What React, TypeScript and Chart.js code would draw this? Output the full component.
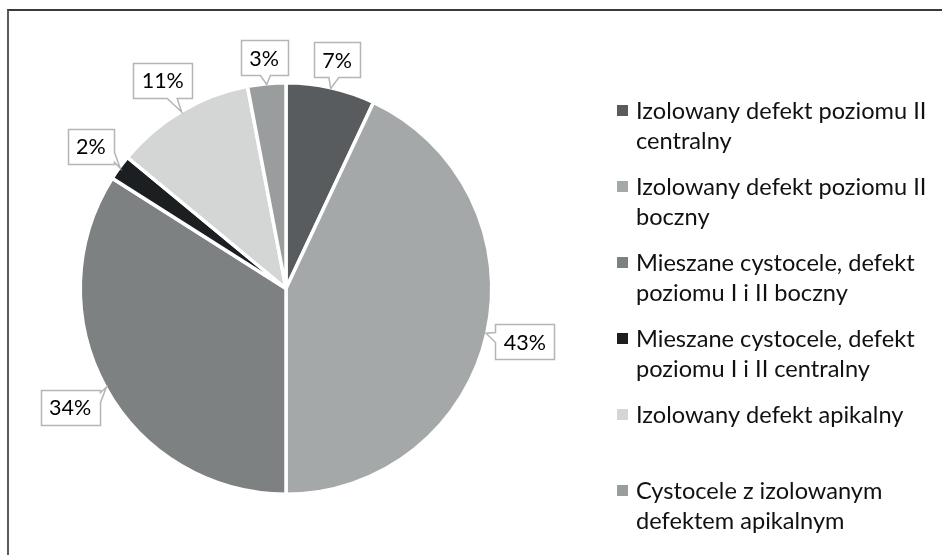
import React, { useEffect, useRef } from "react";
import { Chart, registerables } from "chart.js";

Chart.register(...registerables);

// ---- data ----
const categories: string[][] = [
  ["Izolowany defekt poziomu II", "centralny"],
  ["Izolowany defekt poziomu II", "boczny"],
  ["Mieszane cystocele, defekt", "poziomu I i II boczny"],
  ["Mieszane cystocele, defekt", "poziomu I i II centralny"],
  ["Izolowany defekt apikalny"],
  ["Cystocele z izolowanym", "defektem apikalnym"],
];
const percentages: number[] = [7, 43, 34, 2, 11, 3];
const sliceColors: string[] = ["#595c5e", "#a5a8a9", "#7e8182", "#1c1f21", "#d4d5d5", "#9a9d9e"];

const FONT = "Lato, 'Open Sans', sans-serif";
const BORDER_W = 3.5;

const calloutPlugin = {
  id: "callouts",
  afterDatasetsDraw(chart: any) {
    const ctx: CanvasRenderingContext2D = chart.ctx;
    const meta = chart.getDatasetMeta(0);
    const ds = chart.data.datasets[0];
    ctx.save();
    const fs = 21.5;
    ctx.font = `${fs}px ${FONT}`;
    const clamp = (v: number, a: number, b: number) => Math.max(a, Math.min(b, v));
    meta.data.forEach((arc: any, i: number) => {
      const { x, y, startAngle, endAngle, outerRadius } = arc.getProps(
        ["x", "y", "startAngle", "endAngle", "outerRadius"],
        true
      );
      const mid = (startAngle + endAngle) / 2;
      const ux = Math.cos(mid);
      const uy = Math.sin(mid);
      const r = outerRadius - BORDER_W / 2;
      const text = `${ds.data[i]}%`;
      const tw = ctx.measureText(text).width;
      const hw = tw / 2 + 8.5;
      const hh = 17.5;
      const ext = Math.abs(ux) * hw + Math.abs(uy) * hh;
      const d = r + 8 + ext;
      const cx = x + ux * d;
      const cy = y + uy * d;
      const tipx = x + ux * (r + 1);
      const tipy = y + uy * (r + 1);
      const L = Math.round(cx - hw) + 0.5;
      const R = Math.round(cx + hw) + 0.5;
      const T = Math.round(cy - hh) + 0.5;
      const B = Math.round(cy + hh) + 0.5;
      const dx = tipx - cx;
      const dy = tipy - cy;
      const side =
        Math.abs(dx) / hw > Math.abs(dy) / hh ? (dx < 0 ? "left" : "right") : dy < 0 ? "top" : "bottom";
      const half = 5;
      ctx.beginPath();
      ctx.moveTo(L, T);
      if (side === "top") {
        const b = clamp(cx + dx * 0.5, L + half + 2, R - half - 2);
        ctx.lineTo(b - half, T);
        ctx.lineTo(tipx, tipy);
        ctx.lineTo(b + half, T);
      }
      ctx.lineTo(R, T);
      if (side === "right") {
        const b = clamp(cy + dy * 0.5, T + half + 2, B - half - 2);
        ctx.lineTo(R, b - half);
        ctx.lineTo(tipx, tipy);
        ctx.lineTo(R, b + half);
      }
      ctx.lineTo(R, B);
      if (side === "bottom") {
        const b = clamp(cx + dx * 0.5, L + half + 2, R - half - 2);
        ctx.lineTo(b + half, B);
        ctx.lineTo(tipx, tipy);
        ctx.lineTo(b - half, B);
      }
      ctx.lineTo(L, B);
      if (side === "left") {
        const b = clamp(cy + dy * 0.5, T + half + 2, B - half - 2);
        ctx.lineTo(L, b + half);
        ctx.lineTo(tipx, tipy);
        ctx.lineTo(L, b - half);
      }
      ctx.closePath();
      ctx.fillStyle = "#ffffff";
      ctx.fill();
      ctx.strokeStyle = "#b5b5b5";
      ctx.lineWidth = 1.5;
      ctx.lineJoin = "miter";
      ctx.stroke();
      ctx.fillStyle = "#000000";
      ctx.textAlign = "center";
      ctx.textBaseline = "alphabetic";
      ctx.fillText(text, cx, cy + fs * 0.36);
    });
    ctx.restore();
  },
};

const legendPlugin = {
  id: "sideLegend",
  afterDraw(chart: any) {
    const ctx: CanvasRenderingContext2D = chart.ctx;
    const labels: string[][] = chart.data.labels;
    const colors: string[] = chart.data.datasets[0].backgroundColor;
    ctx.save();
    ctx.font = `23.6px ${FONT}`;
    ctx.textAlign = "left";
    ctx.textBaseline = "alphabetic";
    const markerX = 617;
    const textX = 636;
    const firstBaseline = 118.5;
    const itemGap = 76;
    const lineH = 30.5;
    labels.forEach((lines, i) => {
      const base = firstBaseline + i * itemGap;
      ctx.fillStyle = colors[i];
      ctx.fillRect(markerX, Math.round(base - 13.5), 11, 11);
      ctx.fillStyle = "#111111";
      lines.forEach((ln, j) => {
        ctx.fillText(ln, textX, base + j * lineH);
      });
    });
    ctx.restore();
  },
};

export default function App() {
  const canvasRef = useRef<HTMLCanvasElement | null>(null);

  useEffect(() => {
    if (!canvasRef.current) return;
    const chart = new Chart(canvasRef.current, {
      type: "pie",
      data: {
        labels: categories as any,
        datasets: [
          {
            data: percentages,
            backgroundColor: sliceColors,
            borderColor: "#ffffff",
            borderWidth: BORDER_W,
          },
        ],
      },
      options: {
        animation: false,
        responsive: false,
        maintainAspectRatio: false,
        layout: { padding: { left: 78.5, right: 448.5, top: 81, bottom: 59 } },
        plugins: {
          legend: { display: false },
          tooltip: { enabled: false },
        },
      },
      plugins: [calloutPlugin, legendPlugin],
    });
    return () => chart.destroy();
  }, []);

  return (
    <div style={{ position: "absolute", left: 0, top: 0, width: 942, height: 555, background: "#fff", overflow: "hidden" }}>
      <div
        style={{
          position: "absolute",
          left: 7,
          top: 9,
          width: 960,
          height: 600,
          borderTop: "2px solid #3a3a3a",
          borderLeft: "2px solid #5a5a5a",
          boxSizing: "border-box",
        }}
      />
      <canvas ref={canvasRef} width={942} height={555} style={{ position: "absolute", left: 0, top: 0 }} />
    </div>
  );
}
